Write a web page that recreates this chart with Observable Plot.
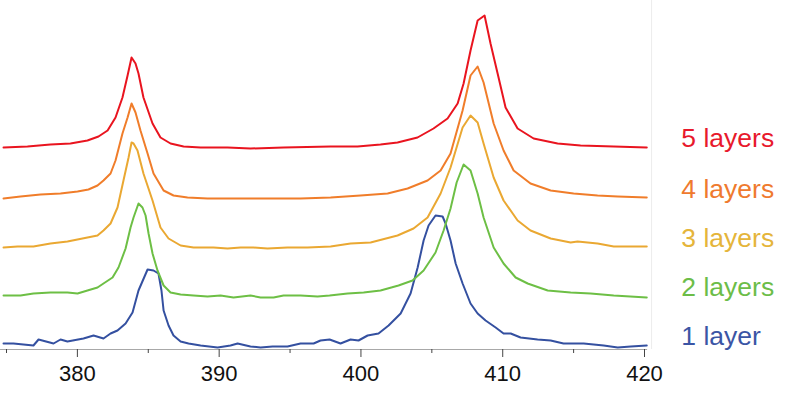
<!DOCTYPE html>
<html>
<head>
<meta charset="utf-8">
<script src="https://cdn.jsdelivr.net/npm/d3@7"></script>
<script src="https://cdn.jsdelivr.net/npm/@observablehq/plot@0.6"></script>
<style>
  html, body { margin: 0; padding: 0; background: #fff; }
  #chart svg { display: block; }
</style>
</head>
<body>
<div id="chart"></div>
<script>
// Raman shift (cm^-1) and relative intensity for each sample
const layer1X = [374.79,375.49,376.90,377.26,378.32,378.81,379.30,380.43,381.14,381.84,382.34,382.83,383.40,383.89,384.31,384.95,385.37,385.72,385.93,386.08,386.43,386.78,387.28,387.84,388.69,389.89,390.80,391.30,392.21,392.92,393.77,394.82,395.74,396.66,397.15,397.79,398.56,399.27,399.83,400.47,401.24,401.95,402.80,403.50,404.00,404.42,404.77,405.26,405.76,405.97,406.32,406.68,407.17,407.73,408.23,408.79,409.50,410.06,410.56,411.26,412.46,413.38,414.29,415.71,417.12,418.11,419.03,420.16];
const layer1Y = [2,2,0,6,2,6,4,7,10,7,12,15,22,33,55,76,75,72,55,35,20,10,4,2,0,-2,0,2,-1,-2,-1,-1,2,2,5,6,2,6,5,10,12,20,32,52,78,105,120,130,129,122,105,82,62,42,32,25,18,12,12,8,6,5,2,2,0,-2,-1,0];

const layer2X = [374.79,375.99,376.90,378.10,379.30,380.01,380.71,381.42,381.84,382.48,382.90,383.40,383.75,383.96,384.31,384.59,384.81,385.02,385.30,385.65,386.08,386.57,387.28,388.19,389.18,390.10,391.01,392.21,392.92,393.84,394.54,395.74,396.94,397.79,399.06,400.19,401.38,402.65,403.64,404.42,405.26,405.83,406.32,406.75,407.24,407.73,408.23,408.65,409.36,410.06,410.91,411.76,413.17,414.79,416.20,417.83,420.16];
const layer2Y = [1,1,3,4,4,3,6,9,13,19,29,48,69,79,93,89,81,63,43,26,11,4,2,1,0,1,-1,1,-1,-1,1,1,0,1,3,4,6,11,16,26,44,66,88,114,132,126,103,79,49,33,19,13,6,4,3,1,-1];

const layer3X = [374.79,375.78,376.90,378.10,379.30,380.71,381.42,381.84,382.34,382.83,383.25,383.61,383.82,383.96,384.24,384.66,385.30,385.86,386.43,387.28,388.19,389.60,390.59,391.51,392.43,393.41,394.82,396.23,397.86,399.27,400.68,402.58,403.71,404.70,405.62,406.32,407.17,407.73,408.23,408.65,409.36,410.06,411.05,411.96,413.38,414.79,415.28,416.69,417.83,420.16];
const layer3Y = [0,1,1,4,6,10,12,17,24,40,67,90,105,104,97,74,47,20,9,2,0,0,-1,0,0,-1,0,0,1,4,5,12,19,30,54,80,120,132,125,104,70,47,27,17,9,5,6,4,1,1];

const layer4X = [374.79,375.99,377.40,378.81,380.01,380.78,381.42,381.84,382.34,382.69,383.18,383.54,383.82,384.10,384.45,384.95,385.37,386.08,386.78,387.77,389.18,391.01,393.41,395.74,397.86,399.97,401.88,403.29,404.70,405.62,406.32,407.17,407.73,408.23,408.65,409.36,410.06,410.77,411.96,413.38,415.00,416.69,418.11,420.16];
const layer4Y = [0,2,4,5,7,9,13,18,25,38,65,81,95,86,68,45,25,8,3,1,0,0,0,0,1,3,5,10,18,28,45,88,123,132,116,75,48,28,15,8,5,3,2,1];

const layer5X = [374.79,376.48,378.10,379.51,380.71,381.49,382.13,382.69,383.18,383.54,383.82,384.10,384.31,384.66,385.30,385.86,386.57,387.49,388.69,390.59,392.21,394.54,397.86,399.76,401.38,402.58,403.99,405.12,406.11,406.82,407.24,407.73,408.23,408.72,409.14,409.64,410.20,411.05,412.18,413.87,415.49,417.83,420.16];
const layer5Y = [0,1,3,4,7,11,17,30,50,72,90,84,74,50,24,10,4,1,0,0,-1,0,1,1,3,5,10,19,29,44,64,97,127,132,104,74,40,19,9,4,2,1,0];

const seriesNames = ["1 layer", "2 layers", "3 layers", "4 layers", "5 layers"];
const seriesOffsets = [0, 49, 98, 147, 198];
const lineColors = ["#3450a0", "#6dbf45", "#eaa832", "#f07d2a", "#e9141f"];
const labelColors = ["#3b55a5", "#6cbd48", "#e5b53a", "#ef7a2e", "#e8192c"];
const majorTicks = [380, 390, 400, 410, 420];
const minorTicks = [375, 385, 395, 405, 415];

const xs = [layer1X, layer2X, layer3X, layer4X, layer5X];
const ys = [layer1Y, layer2Y, layer3Y, layer4Y, layer5Y];

const rows = [];
seriesNames.forEach((name, i) => {
  xs[i].forEach((x, j) => rows.push({series: name, x, y: ys[i][j] + seriesOffsets[i]}));
});
const labelRows = seriesNames.map((name, i) => ({series: name, y: seriesOffsets[i] + 9}));

const chart = Plot.plot({
  width: 800,
  height: 397,
  marginLeft: 6,
  marginRight: 156,
  marginTop: 0,
  marginBottom: 48,
  style: {fontFamily: "'Liberation Sans', Arial, sans-serif", background: "#fff"},
  x: {domain: [375, 420], label: null},
  y: {domain: [-4, 345], axis: null},
  color: {domain: seriesNames, range: lineColors},
  marks: [
    Plot.ruleX([420.5], {y1: -4, y2: 345, stroke: "#ececec", strokeWidth: 1}),
    Plot.ruleY([-4], {x1: 374.58, x2: 420.22, stroke: "#a8a8a8", strokeWidth: 1.2}),
    Plot.axisX({ticks: minorTicks, tickSize: 4, tickFormat: () => "", stroke: "#444", label: null}),
    Plot.axisX({ticks: majorTicks, tickSize: 8, tickPadding: 8, fontSize: 22, fill: "#111", stroke: "#444", tickFormat: d => String(d), label: null}),
    Plot.line(rows, {x: "x", y: "y", z: "series", stroke: "series", strokeWidth: 2, strokeLinejoin: "round"}),
    Plot.text(labelRows, {x: 422.6, y: "y", text: "series", textAnchor: "start", fontSize: 26.5, fill: (d) => labelColors[seriesNames.indexOf(d.series)]})
  ]
});
document.getElementById("chart").appendChild(chart);
</script>
</body>
</html>
